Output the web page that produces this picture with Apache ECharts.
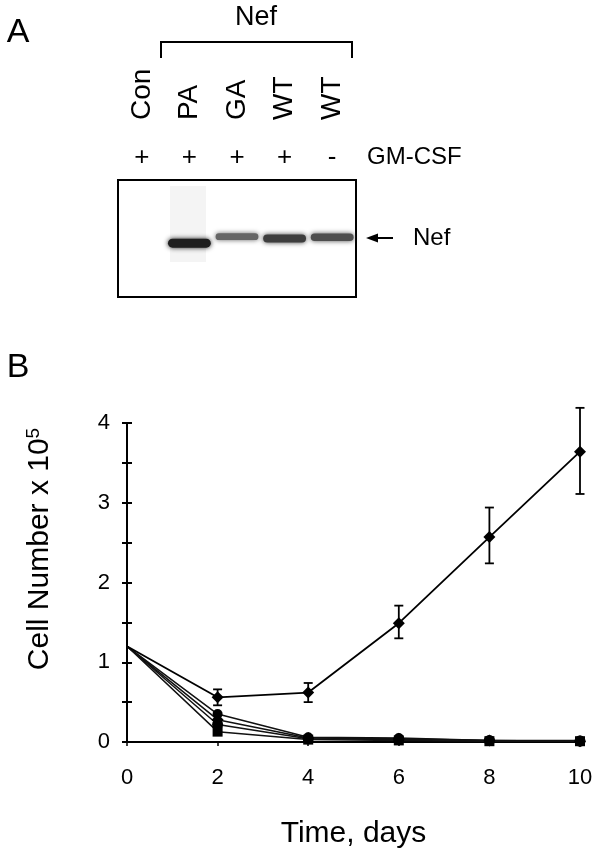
<!DOCTYPE html>
<html>
<head>
<meta charset="utf-8">
<script src="https://cdn.jsdelivr.net/npm/echarts@6/dist/echarts.min.js"></script>
<style>
html,body{margin:0;padding:0;background:#fff;}
#chart{width:600px;height:856px;}
</style>
</head>
<body>
<div id="chart"></div>
<script>
// ---------- Panel A data (western blot) ----------
const laneNames = ['Con', 'PA', 'GA', 'WT', 'WT'];
const gmcsf = ['+', '+', '+', '+', '-'];
// band: [lane index, relative migration position (0 bottom .. 1 top), intensity 0..1]
const bandLane = [1, 2, 3, 4];
const bandPos = [0.46, 0.515, 0.50, 0.51];
const bandIntensity = [1.0, 0.55, 0.8, 0.7];

// ---------- Panel B data (cell number x 10^5 vs days) ----------
const days = [0, 2, 4, 6, 8, 10];
const growing = [1.2, 0.56, 0.62, 1.49, 2.57, 3.64];
const growingLow = [null, 0.46, 0.50, 1.30, 2.24, 3.11];
const growingHigh = [null, 0.66, 0.74, 1.71, 2.94, 4.19];
const dyingA = [1.2, 0.35, 0.06, 0.05, 0.02, 0.02];
const dyingB = [1.2, 0.28, 0.05, 0.04, 0.02, 0.01];
const dyingC = [1.2, 0.22, 0.04, 0.03, 0.02, 0.01];
const dyingD = [1.2, 0.13, 0.03, 0.02, 0.01, 0.01];
const yTicks = [0, 1, 2, 3, 4];
const xTicks = [0, 2, 4, 6, 8, 10];

const FONT = '"Liberation Sans", Arial, Helvetica, sans-serif';

function pts(arr, size) {
  return days.map((d, i) => i === 0 ? { value: [d, arr[i]], symbolSize: 0 } : { value: [d, arr[i]], symbolSize: size });
}

const errData = [];
days.forEach((d, i) => { if (growingLow[i] != null) errData.push([d, growingLow[i], growingHigh[i]]); });
const bandData = bandLane.map((l, i) => [l, bandPos[i], bandIntensity[i]]);

const chart = echarts.init(document.getElementById('chart'), null, { renderer: 'canvas' });

function lowSeries(name, arr, symbol, size) {
  return {
    name, type: 'line', xAxisIndex: 2, yAxisIndex: 1,
    data: pts(arr, size), symbol, showSymbol: true,
    lineStyle: { color: '#111', width: 1.5 },
    itemStyle: { color: '#000', borderWidth: 0 },
    z: 3
  };
}

const option = {
  animation: false,
  backgroundColor: '#fff',
  textStyle: { fontFamily: FONT, color: '#000' },
  grid: [
    { left: 118, top: 180, width: 238, height: 117, show: true, borderColor: '#000', borderWidth: 2, backgroundColor: 'transparent', containLabel: false, outerBoundsMode: 'none' },
    { left: 127, top: 423, width: 453, height: 319, show: false, containLabel: false, outerBoundsMode: 'none' }
  ],
  xAxis: [
    { gridIndex: 0, type: 'category', position: 'top', data: ['0','1','2','3','4'],
      axisLine: { show: false }, axisTick: { show: false }, splitLine: { show: false },
      axisLabel: { rotate: 90, margin: 60, fontSize: 28, color: '#000', fontFamily: FONT, interval: 0,
        formatter: (v, i) => laneNames[i] } },
    { gridIndex: 0, type: 'category', position: 'top', data: ['0','1','2','3','4'],
      axisLine: { show: false }, axisTick: { show: false }, splitLine: { show: false },
      axisLabel: { margin: 9, fontSize: 26, color: '#000', fontFamily: FONT, interval: 0,
        formatter: (v, i) => gmcsf[i] } },
    { gridIndex: 1, type: 'value', min: 0, max: 10, interval: 2, position: 'bottom',
      axisLine: { show: true, onZero: false, lineStyle: { color: '#000', width: 2 } },
      axisTick: { show: true, length: 4, lineStyle: { color: '#000', width: 1.5 } },
      splitLine: { show: false },
      axisLabel: { margin: 25, fontSize: 22, color: '#000', fontFamily: FONT, showMinLabel: true, showMaxLabel: true },
      name: 'Time, days', nameLocation: 'middle', nameGap: 77,
      nameTextStyle: { fontSize: 30, color: '#000', fontFamily: FONT } }
  ],
  yAxis: [
    { gridIndex: 0, type: 'value', min: 0, max: 1, show: false },
    { gridIndex: 1, type: 'value', min: 0, max: 4, interval: 0.5, position: 'left',
      axisLine: { show: true, onZero: false, lineStyle: { color: '#000', width: 2 } },
      axisTick: { show: true, length: 5, lineStyle: { color: '#000', width: 2 } },
      splitLine: { show: false },
      axisLabel: { margin: 17, fontSize: 22, color: '#000', fontFamily: FONT,
        formatter: v => (yTicks.indexOf(v) >= 0 ? String(v) : '') } },
    { gridIndex: 1, type: 'value', min: 0, max: 4, interval: 0.5, position: 'left',
      axisLine: { show: false }, axisLabel: { show: false }, splitLine: { show: false },
      axisTick: { show: true, inside: true, length: 5, lineStyle: { color: '#000', width: 2 } } }
  ],
  graphic: [
    { type: 'rect', shape: { x: 170, y: 186, width: 36, height: 76 }, style: { fill: '#f4f4f4' }, z: -1 },
    { type: 'text', x: 18, y: 33, style: { text: 'A', font: '34px ' + FONT, fill: '#000', align: 'center', verticalAlign: 'middle' } },
    { type: 'text', x: 256, y: 18, style: { text: 'Nef', font: '27px ' + FONT, fill: '#000', align: 'center', verticalAlign: 'middle' } },
    { type: 'polyline', shape: { points: [[161, 58], [161, 42], [352, 42], [352, 58]] }, style: { stroke: '#000', lineWidth: 2, fill: null } },
    { type: 'text', x: 367, y: 157, style: { text: 'GM-CSF', font: '24px ' + FONT, fill: '#000', align: 'left', verticalAlign: 'middle' } },
    { type: 'line', shape: { x1: 374, y1: 238, x2: 393, y2: 238 }, style: { stroke: '#000', lineWidth: 2 } },
    { type: 'polygon', shape: { points: [[366, 238], [378, 233.5], [378, 242.5]] }, style: { fill: '#000' } },
    { type: 'text', x: 413, y: 238, style: { text: 'Nef', font: '24px ' + FONT, fill: '#000', align: 'left', verticalAlign: 'middle' } },
    { type: 'text', x: 18, y: 368, style: { text: 'B', font: '34px ' + FONT, fill: '#000', align: 'center', verticalAlign: 'middle' } },
    { type: 'text', x: 40, y: 549, rotation: Math.PI / 2,
      style: { text: 'Cell Number x 10{s|5}', font: '30px ' + FONT, fill: '#000', align: 'center', verticalAlign: 'middle',
        rich: { s: { fontSize: 19, fontFamily: FONT, verticalAlign: 'top', padding: [0, 0, 12, 0] } } } }
  ],
  series: [
    {
      name: 'bands', type: 'custom', xAxisIndex: 0, yAxisIndex: 0, data: bandData,
      encode: { x: 0, y: 1 },
      renderItem: function (params, api) {
        const c = api.coord([api.value(0), api.value(1)]);
        const bw = api.size([1, 0])[0] * 0.9;
        const inten = api.value(2);
        const h = 4 + 5 * inten;
        const g = Math.round(190 - inten * 160);
        const col = 'rgb(' + g + ',' + g + ',' + g + ')';
        return {
          type: 'rect',
          shape: { x: c[0] - bw / 2, y: c[1] - h / 2, width: bw, height: h, r: h / 2 },
          style: { fill: col, shadowBlur: 5, shadowColor: col }
        };
      }
    },
    lowSeries('Nef PA', dyingA, 'circle', 10),
    lowSeries('Nef GA', dyingB, 'diamond', 12),
    lowSeries('Con', dyingC, 'circle', 11),
    lowSeries('Nef WT -GM-CSF', dyingD, 'rect', 10),
    {
      name: 'Nef WT +GM-CSF', type: 'line', xAxisIndex: 2, yAxisIndex: 1,
      data: pts(growing, 12), symbol: 'diamond',
      lineStyle: { color: '#000', width: 1.8 }, itemStyle: { color: '#000' }, z: 4
    },
    {
      name: 'error', type: 'custom', xAxisIndex: 2, yAxisIndex: 1, data: errData,
      encode: { x: 0, y: [1, 2] }, z: 5,
      renderItem: function (params, api) {
        const x = api.value(0);
        const lo = api.coord([x, api.value(1)]);
        const hi = api.coord([x, api.value(2)]);
        const w = 4.5;
        const st = { stroke: '#000', lineWidth: 1.8 };
        return {
          type: 'group',
          children: [
            { type: 'line', shape: { x1: lo[0], y1: lo[1], x2: hi[0], y2: hi[1] }, style: st },
            { type: 'line', shape: { x1: lo[0] - w, y1: lo[1], x2: lo[0] + w, y2: lo[1] }, style: st },
            { type: 'line', shape: { x1: hi[0] - w, y1: hi[1], x2: hi[0] + w, y2: hi[1] }, style: st }
          ]
        };
      }
    }
  ]
};
chart.setOption(option);
</script>
</body>
</html>
